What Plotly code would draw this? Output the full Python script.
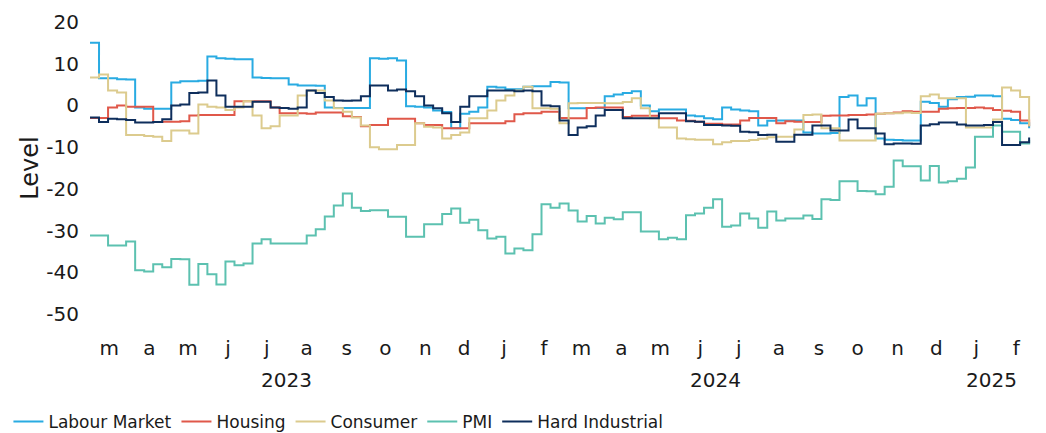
import pandas as pd
import plotly.graph_objects as go

# Weekly observations starting 2023-03-01
start_date = "2023-03-01"
n_weeks = 105
dates = pd.date_range(start_date, periods=n_weeks, freq="7D")

labour_market = [
    15.0, 6.5, 6.5, 6.3, 6.2, -0.5, -0.8, -0.8, -0.8, 5.5,
    5.8, 5.8, 5.9, 11.7, 11.3, 11.2, 11.1, 11.1, 6.7, 6.6,
    6.5, 6.5, 5.0, 4.8, 4.8, 4.7, -0.5, -0.6, -0.6, -0.6,
    -0.6, 11.3, 11.2, 11.3, 10.8, -0.2, -0.3, -0.5, -1.2, -1.6,
    -5.5, -2.0, -1.5, -0.5, 4.5, 4.3, 3.9, 3.9, 4.5, 4.6,
    4.6, 5.6, 5.5, -0.7, -0.7, -0.6, -0.6, 2.2, 2.6, 3.0,
    3.4, 0.0, -1.4, -1.0, -1.0, -1.0, -2.4, -2.6, -3.1, -3.3,
    -0.5, -1.0, -1.2, -1.4, -4.8, -3.7, -3.6, -3.6, -3.6, -6.5,
    -6.7, -6.7, -6.6, 2.0, 2.4, 0.0, 1.7, -7.9, -8.2, -8.3,
    -8.4, -8.4, 0.9, 0.6, -0.3, 1.5, 2.0, 2.1, 2.4, 2.4,
    2.2, -3.2, -3.5, -4.3, -5.5,
]

housing = [
    -3.0, -3.0, -0.5, 0.0, -0.3, -0.3, -0.3, -4.0, -3.9, -3.9,
    -3.8, -2.4, -2.3, -2.3, -2.3, -2.3, 1.0, 1.0, 1.0, 1.0,
    -0.5, -1.9, -1.9, -1.9, -2.0, -1.7, -1.7, -1.7, -2.6, -2.8,
    -5.0, -4.7, -4.7, -3.2, -3.2, -3.2, -4.3, -4.7, -4.7, -5.5,
    -5.5, -5.5, -4.3, -4.3, -4.3, -4.3, -3.8, -2.1, -1.9, -1.9,
    -1.5, -1.5, -3.0, -3.1, -3.1, -0.6, -0.5, -0.5, -0.5, -2.8,
    -2.5, -2.5, -2.5, -3.1, -3.1, -3.6, -3.7, -3.9, -4.4, -4.4,
    -4.6, -4.6, -3.6, -3.0, -3.0, -3.0, -4.3, -3.8, -3.9, -4.0,
    -4.0, -2.5, -2.4, -2.4, -2.3, -2.3, -2.2, -2.0, -1.9, -1.7,
    -1.4, -1.5, -1.5, -1.5, -0.8, -0.7, -0.6, -0.6, -0.5, -0.7,
    -1.1, -1.3, -1.5, -3.6, -5.0,
]

consumer = [
    6.7, 7.4, 3.6, 3.1, -7.1, -7.1, -7.3, -7.5, -8.5, -6.0,
    -6.0, -6.7, 0.2, -0.3, -0.5, -1.1, -0.5, 1.0, -2.4, -5.5,
    -5.0, -2.4, -2.4, 2.4, 3.6, 3.6, 1.2, -0.7, -1.5, -2.9,
    -4.8, -10.0, -10.5, -10.5, -9.5, -9.5, -4.3, -5.1, -5.3, -7.9,
    -7.1, -6.5, -3.1, -3.1, -1.2, 1.2, 2.4, 3.6, 4.5, -0.7,
    -0.7, -0.8, -4.3, 0.5, 0.6, 0.6, 0.6, 0.5, 0.5, 0.8,
    1.7, -0.7, -3.1, -5.3, -5.3, -7.9, -8.1, -8.2, -8.2, -9.3,
    -8.8, -8.5, -8.5, -8.3, -8.0, -7.6, -7.5, -7.5, -5.8, -2.3,
    -2.2, -5.5, -5.5, -8.4, -8.4, -8.4, -8.4, -2.0, -1.9, -1.9,
    -1.7, -1.8, 2.2, 2.6, 1.7, 1.7, 1.7, -5.3, -5.3, -5.3,
    -3.4, 4.3, 3.6, 2.0, -5.0,
]

pmi = [
    -31.2, -31.2, -33.6, -33.6, -32.6, -39.5, -39.8, -38.1, -38.8, -36.8,
    -36.9, -43.0, -38.0, -40.5, -42.9, -37.4, -38.3, -37.9, -33.1, -32.1,
    -33.1, -33.1, -33.1, -33.1, -31.2, -29.7, -26.6, -24.0, -21.1, -24.5,
    -25.3, -25.1, -25.1, -26.7, -26.7, -31.5, -31.5, -28.5, -28.5, -26.0,
    -24.7, -28.1, -27.4, -29.9, -31.9, -31.5, -35.5, -34.3, -34.7, -30.9,
    -23.7, -24.5, -23.5, -25.2, -27.8, -26.5, -28.3, -26.9, -27.3, -25.6,
    -25.6, -30.2, -30.2, -32.1, -31.7, -32.1, -26.3, -25.9, -24.5, -22.5,
    -29.1, -28.8, -25.9, -27.1, -29.3, -25.4, -27.6, -27.1, -27.1, -26.4,
    -27.2, -22.5, -22.7, -18.2, -18.2, -20.5, -20.6, -21.3, -19.5, -13.2,
    -14.6, -14.6, -18.0, -14.5, -18.5, -18.2, -17.6, -14.9, -7.5, -7.5,
    -4.8, -6.3, -6.3, -9.1, -8.3,
]

hard_industrial = [
    -2.9, -4.0, -3.2, -3.3, -3.5, -4.1, -4.1, -4.0, -3.3, 0.0,
    0.2, 3.0, 3.1, 6.0, 2.4, -0.3, -0.3, -0.3, 0.9, 0.9,
    -0.5, -0.6, -0.8, -0.5, 3.6, 3.0, 2.0, 1.2, 1.1, 1.2,
    2.2, 4.8, 4.8, 3.6, 3.8, 3.4, 2.2, 0.0, -0.7, -1.9,
    -4.0, -0.3, 2.2, 2.2, 3.6, 3.6, 3.6, 3.4, 3.6, 3.4,
    0.0, -0.2, -3.6, -7.1, -5.3, -5.0, -2.4, -1.1, -1.1, -3.1,
    -3.1, -3.1, -3.1, -1.9, -1.9, -1.9, -3.8, -3.9, -4.7, -4.7,
    -4.8, -4.9, -6.3, -6.4, -7.1, -7.0, -8.7, -8.7, -7.0, -7.0,
    -4.8, -4.8, -6.0, -6.0, -3.4, -5.5, -5.5, -6.7, -9.3, -9.1,
    -9.1, -9.2, -4.8, -4.5, -4.1, -4.1, -4.6, -4.8, -4.8, -4.7,
    -4.0, -9.5, -9.5, -8.8, -7.7,
]

series_names = ["Labour Market", "Housing", "Consumer", "PMI", "Hard Industrial"]
series_values = [labour_market, housing, consumer, pmi, hard_industrial]
series_colors = ["#29ABE2", "#E0584A", "#DCCB8E", "#5CC1B0", "#0E2E5C"]

# month tick labels (centred in each month)
month_tick_dates = [pd.Timestamp(y, m, 16) for y, m in
                    [(2023, m) for m in range(3, 13)]
                    + [(2024, m) for m in range(1, 13)]
                    + [(2025, m) for m in range(1, 3)]]
month_tick_text = ["m", "a", "m", "j", "j", "a", "s", "o", "n", "d",
                   "j", "f", "m", "a", "m", "j", "j", "a", "s", "o", "n", "d",
                   "j", "f"]
year_labels = ["2023", "2024", "2025"]
year_label_dates = ["2023-07-31", "2024-06-28", "2025-01-28"]

FONT = "DejaVu Sans"
TXT = "#1a1a1a"

fig = go.Figure()
for name, vals, col in zip(series_names, series_values, series_colors):
    fig.add_trace(go.Scatter(
        x=dates, y=vals, name=name, mode="lines",
        line=dict(color=col, width=2, shape="hv"),
    ))

for lbl, d in zip(year_labels, year_label_dates):
    fig.add_annotation(x=d, y=-0.225, xref="x", yref="paper", text=lbl,
                       showarrow=False, font=dict(family=FONT, size=20, color=TXT),
                       xanchor="center", yanchor="middle")

# the page body adds an 8px offset, so the figure is 8px smaller on each axis
fig.update_layout(
    width=1038, height=425,
    margin=dict(l=82, r=13, t=14, b=119, autoexpand=False),
    paper_bgcolor="white", plot_bgcolor="white",
    font=dict(family=FONT, size=20, color=TXT),
    showlegend=True,
    legend=dict(orientation="h", x=-0.0865, xanchor="left", y=-0.37, yanchor="middle",
                font=dict(family=FONT, size=17, color=TXT),
                itemwidth=30, tracegroupgap=0,
                bgcolor="rgba(0,0,0,0)"),
    xaxis=dict(
        range=["2023-03-01", "2025-03-01"],
        tickmode="array", tickvals=month_tick_dates, ticktext=month_tick_text,
        showgrid=False, zeroline=False, showline=False, ticks="",
        tickfont=dict(family=FONT, size=20, color=TXT),
        ticklabelstandoff=20, automargin=False,
    ),
    yaxis=dict(
        range=[-50, 20], tickmode="array", tickvals=[-50, -40, -30, -20, -10, 0, 10, 20],
        ticktext=["-50", "-40", "-30", "-20", "-10", "0", "10", "20"],
        showgrid=False, zeroline=False, showline=False, ticks="",
        tickfont=dict(family=FONT, size=20, color=TXT),
        title=dict(text="Level", font=dict(family=FONT, size=24, color=TXT), standoff=0),
        ticklabelstandoff=10, automargin=False,
    ),
)

fig.write_html("out.html")
